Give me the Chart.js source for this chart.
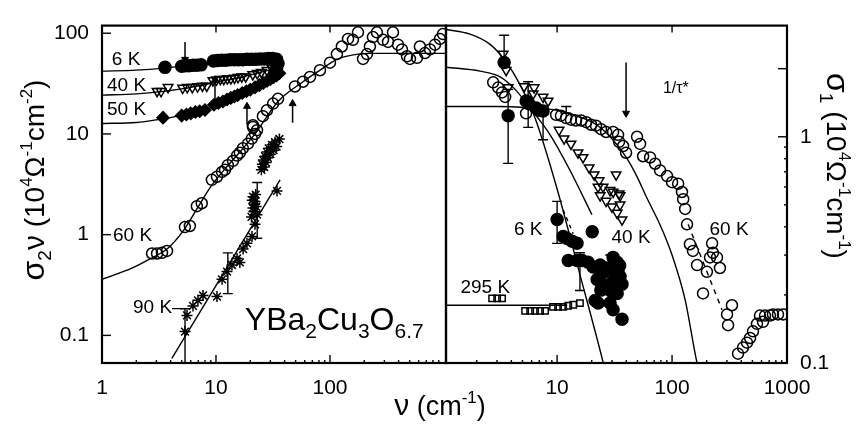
<!DOCTYPE html>
<html lang="en">
<head>
<meta charset="UTF-8">
<title>YBa2Cu3O6.7 conductivity</title>
<script src="https://cdn.jsdelivr.net/npm/chart.js"></script>
<style>
  body { margin: 0; background: #fff; }
  .wrap { position: relative; width: 856px; height: 426px; }
  .wrap canvas { position: absolute; left: 0; top: 0; }
</style>
</head>
<body>
<div class="wrap">
  <canvas id="left" width="856" height="426"></canvas>
  <canvas id="right" width="856" height="426"></canvas>
</div>
<script>
// ---- left panel: sigma2 * nu (10^4 Ohm^-1 cm^-2) vs nu (cm^-1) ----
const left6K = [[3.57,45.8],[5.0,47],[5.4,47.5],[5.8,47.5],[6.3,48],[6.8,48],[7.4,48.5],[9.5,53],[10.3,53.5],[11.2,54],[12.2,54],[13.3,54.5],[14.5,54.5],[15.8,54.5],[17.2,54.5],[18.7,55],[20.4,55],[22.2,55],[24.2,55.5],[26.4,55.5],[28.8,56],[31.4,56],[34,55],[35,50],[34,45],[33,41]];
const left40K = [[3.04,26.6],[3.3,26.5],[3.8,29],[5.1,28.5],[5.6,29],[6.2,29],[6.9,29.5],[7.6,30],[8.3,30],[9.4,34],[10.1,34.5],[10.9,35],[11.7,35],[12.6,35.5],[13.5,35.5],[14.5,36],[15.6,36.5],[16.8,37],[18.2,37],[21,39],[23,40],[25,41],[28,43],[31,45],[33,47]];
const left50K = [[3.43,14.5],[5.0,15.2],[5.5,15.6],[6.0,16],[6.6,16.5],[7.2,16.8],[8.0,17.3],[9.6,19.5],[10.5,20.3],[11.5,21],[12.5,22],[13.5,22.8],[14.5,23.5],[15.5,24.3],[17,25.5],[18.5,26.5],[20,27.5],[22,29],[24,30.5],[26,32],[28,33.5],[30,35],[32,36.5],[34,38],[36,40]];
const left60K = [[2.75,0.65],[3.04,0.65],[3.36,0.66],[3.72,0.69],[5.34,1.19],[5.9,1.22],[6.8,1.92],[7.5,2.05],[9.2,3.5],[10.2,3.76],[11.3,4.2],[12.0,4.4],[12.7,4.9],[14.1,5.4],[15.3,6.1],[16.2,6.5],[17.2,7.2],[19.1,8.0],[20.6,9.0],[22,10],[22.9,10.9],[21.1,11.7],[21.1,12.2],[25.8,15],[28,17.2],[31.7,20],[35,22.3],[49.3,29.6],[58,33],[66.8,36.8],[81.7,42.9],[100,51],[115,62],[127,73.8],[144,87.8],[159,86],[176,102],[195,55.6],[211,62],[224,73.8],[238,91.6],[258,102],[292,86],[323,82],[357,102],[395,77],[428,69],[474,59],[503,55.6],[580,57],[615,73.8],[681,63.5],[754,69],[834,77],[922,87.8],[980,98]];
const left90K = [[5.35,0.109],[5.57,0.158],[6.28,0.196],[6.95,0.223],[7.69,0.249],[10.2,0.243],[11.3,0.36],[12.5,0.43],[13.8,0.5],[15.3,0.58],[16.2,0.53],[17.3,0.72],[18.7,0.82],[20.7,0.96],[22,1.27],[22.9,1.58],[21.1,1.84],[22,2.14],[21.1,2.38],[20.5,1.5],[21.5,1.7],[22.5,1.9],[21.8,2.0],[20.8,2.2],[22.3,2.5],[34.3,2.72],[25,4.4],[25.5,5.0],[26,5.5],[26.5,4.7],[27,6.0],[27.5,5.2],[28,6.6],[28.5,5.8],[29,7.2],[30,6.3],[31,7.8],[32,6.9],[33,8.3],[34,7.5],[36,8.9]];
const leftFit6K = [[1,42],[2,43],[3.5,45],[5,47],[8,49],[12,51],[20,53],[36,55]];
const leftFit40K = [[1,24.3],[2,25],[3,26],[5,28],[8,31],[12,34],[20,38.5],[36,46]];
const leftFit50K = [[1,12.7],[2,13],[3,13.8],[5,15.3],[8,17.5],[12,21],[20,27.5],[36,39]];
const leftFit60K = [[1,0.36],[1.87,0.47],[2.75,0.59],[3.72,0.72],[5.1,1.07],[6.8,1.8],[9,3.0],[12,4.5],[16,6.5],[22,10],[35,21],[58,33],[82,43],[115,55],[160,61],[230,63],[1042,63]];
const leftFit90K = [[4.1,0.059],[36.5,3.5]];
const leftErr = [[5.35,0.05,0.184],[12.7,0.26,0.66],[23,0.92,3.3]];      // nu, low, high
const leftArrows = [[5.35,82,55],[9.8,20,34.5],[18.7,12.4,18.8],[47,12.9,20]]; // nu, tail, head

// ---- right panel: sigma1 (10^4 Ohm^-1 cm^-1) vs nu (cm^-1) ----
const right6K = [[3.46,2.13],[3.75,1.24],[5.38,1.44],[5.7,1.40],[6.56,1.34],[6.97,1.31],[7.55,1.30],[10.0,0.431],[11.3,0.362],[12.2,0.355],[13.5,0.345],[14.9,0.338],[20.2,0.380],[12.5,0.284],[14.9,0.284],[16.5,0.284],[18.6,0.279],[20.6,0.266],[23.7,0.271],[27.2,0.263],[30.7,0.293],[33.3,0.279],[33.9,0.258],[35.3,0.241],[22.3,0.234],[30.7,0.230],[36.7,0.223],[28.9,0.209],[33.3,0.203],[21.4,0.189],[22.7,0.184],[28.9,0.184],[30.7,0.172],[36.7,0.156],[25,0.25],[26,0.22],[32,0.25],[35,0.27],[24,0.21]];
const right40K = [[3.39,2.32],[3.6,1.97],[3.75,1.65],[5.16,1.67],[6.31,1.65],[6.19,1.55],[7.55,1.50],[8.35,1.44],[10.4,1.07],[11.5,0.98],[13.2,0.93],[15.2,0.85],[16.8,0.81],[19.0,0.73],[21.0,0.68],[23.2,0.64],[25.1,0.60],[32.6,0.68],[34.6,0.56],[30.7,0.57],[26.7,0.52],[22.7,0.60],[23.7,0.55],[28.9,0.58],[30.0,0.49],[35.3,0.55],[35.3,0.50],[36.7,0.43],[33.3,0.46]];
const right60K = [[2.78,1.74],[3.07,1.65],[3.32,1.57],[3.53,1.50],[5.37,1.27],[9.8,1.25],[10.8,1.24],[12.0,1.21],[13.2,1.19],[14.6,1.18],[16.2,1.18],[17.9,1.16],[19.8,1.13],[21.8,1.12],[24.1,1.08],[26.7,1.05],[30.7,1.05],[33.9,1.02],[34.6,0.95],[37.5,0.91],[39.8,0.85],[49.6,1.0],[52.7,0.93],[56.0,0.82],[64.4,0.81],[71.2,0.76],[78.7,0.71],[90.5,0.67],[100,0.63],[113,0.62],[122,0.57],[125,0.53],[130,0.48],[135,0.41],[143,0.335],[152,0.313],[165,0.271],[186,0.203],[201,0.253],[223,0.338],[227,0.307],[214,0.293],[246,0.293],[261,0.263],[332,0.180],[301,0.164],[307,0.147],[375,0.110],[414,0.117],[449,0.123],[477,0.129],[506,0.138],[548,0.149],[582,0.162],[618,0.152],[644,0.162],[711,0.162],[755,0.164],[835,0.164],[923,0.164]];
const right295K = [[2.72,0.193],[3.01,0.193],[3.32,0.193],[5.27,0.170],[5.83,0.170],[6.43,0.170],[7.11,0.170],[7.86,0.170],[9.22,0.177],[10.2,0.177],[11.3,0.177],[12.5,0.179],[13.8,0.181],[15.8,0.184]];
const rightFit6K = [[1.08,2.98],[1.75,2.84],[2.61,2.56],[3.53,2.17],[4.76,1.70],[6.43,1.21],[10.0,0.588],[15.8,0.246],[25.1,0.101],[28,0.08]];
const rightFit40K = [[1.08,2.03],[2.14,1.95],[3.19,1.84],[4.31,1.62],[5.82,1.34],[8.69,1.02],[12.9,0.713],[20.1,0.452]];
const rightFit60K = [[1.08,1.36],[3,1.36],[6,1.34],[10,1.31],[16,1.22],[22,1.13],[30,0.98],[40,0.81],[50,0.66],[60,0.54],[80,0.40],[100,0.30],[130,0.19],[165,0.10],[175,0.09]];
const rightFit295K = [[1.08,0.18],[12,0.18]];
const rightDash6K = [[11.3,0.475],[13.8,0.373]];
const rightDash60K = [[138,0.41],[272,0.172]];
const rightErr = [[3.46,2.2,2.81],[3.75,0.763,1.62],[5.6,1.10,1.75],[7.55,0.97,1.25],[12,1.27,1.36],[10,0.338,0.518],[15.8,0.209,0.307],[29,0.25,0.30]];
const rightArrows = [[39.8,2.13,1.27]];

const FONT = '"Liberation Sans", Arial, sans-serif';
const pts = a => a.map(([x, y]) => ({x, y}));
const minorTicks = [1, 10, 100].flatMap(d => [2,3,4,5,6,7,8,9].map(m => m * d));

function markers(data, style, radius, filled, rotation) {
    return {
        data: pts(data), showLine: false, pointStyle: style, pointRadius: radius,
        pointBorderColor: '#000', pointBackgroundColor: filled ? '#000' : 'rgba(0,0,0,0)',
        pointBorderWidth: 1.5, rotation: rotation || 0
    };
}
function curve(data, dash) {
    return {
        data: pts(data), showLine: true, pointRadius: 0, borderColor: '#000',
        borderWidth: 1.4, cubicInterpolationMode: 'monotone', borderDash: dash || []
    };
}
function errBars(list) {
    return list.map(([x, lo, hi]) => ({
        data: [{x, y: lo}, {x, y: hi}], showLine: true, borderColor: '#000', borderWidth: 1.4,
        pointStyle: 'line', pointRadius: 5, pointBorderColor: '#000', pointBorderWidth: 1.4
    }));
}
function arrows(list) {
    return list.map(([x, from, to]) => ({
        data: [{x, y: from}, {x, y: to}], showLine: true, borderColor: '#000', borderWidth: 1.5,
        pointStyle: 'triangle', pointRadius: [0, 4], rotation: to < from ? 180 : 0,
        pointBackgroundColor: '#000', pointBorderColor: '#000', pointBorderWidth: 1
    }));
}

// draws text made of pieces of different size / offset (sub- and superscripts)
function rich(ctx, parts, x, y, rot, align) {
    ctx.save();
    ctx.translate(x, y);
    ctx.rotate(rot);
    ctx.fillStyle = '#000';
    ctx.textBaseline = 'alphabetic';
    ctx.textAlign = 'left';
    let w = 0;
    parts.forEach(([t, s]) => { ctx.font = s + 'px ' + FONT; w += ctx.measureText(t).width; });
    let cx = align === 'center' ? -w / 2 : 0;
    parts.forEach(([t, s, dy]) => {
        ctx.font = s + 'px ' + FONT;
        ctx.fillText(t, cx, dy || 0);
        cx += ctx.measureText(t).width;
    });
    ctx.restore();
}

const isDecade = v => Math.abs(Math.log10(v) - Math.round(Math.log10(v))) < 1e-6;

// box around the plot plus inward tick marks
const frame = {
    id: 'frame',
    afterDatasetsDraw(chart, args, o) {
        const {ctx, chartArea: a} = chart;
        const xs = chart.scales.x, ys = chart.scales.y;
        ctx.save();
        ctx.strokeStyle = '#000';
        ctx.lineWidth = 1.4;
        const seg = (x1, y1, x2, y2) => { ctx.beginPath(); ctx.moveTo(x1, y1); ctx.lineTo(x2, y2); ctx.stroke(); };
        o.xTicks.forEach(v => {
            if (v <= xs.min || v >= xs.max) return;
            const p = xs.getPixelForValue(v);
            const major = isDecade(v);
            seg(p, a.bottom, p, a.bottom - (major ? 8 : 3));
            if (major) seg(p, a.top, p, a.top + 7);
        });
        o.yTicks.forEach(v => {
            if (v <= ys.min || v >= ys.max) return;
            const p = ys.getPixelForValue(v);
            const len = o.yMajor.includes(v) ? 9 : 3;
            if (o.ySide === 'left') seg(a.left, p, a.left + len, p);
            else seg(a.right, p, a.right - len, p);
        });
        ctx.lineWidth = 2.2;
        ctx.strokeRect(a.left, a.top, a.right - a.left, a.bottom - a.top);
        ctx.restore();
    }
};

// in-plot labels, placed in data coordinates
const notes = {
    id: 'notes',
    afterDatasetsDraw(chart, args, o) {
        const {ctx} = chart;
        const xs = chart.scales.x, ys = chart.scales.y;
        ctx.save();
        ctx.fillStyle = '#000';
        ctx.textBaseline = 'middle';
        o.items.forEach(([text, x, y, size, align]) => {
            ctx.font = size + 'px ' + FONT;
            ctx.textAlign = align || 'left';
            ctx.fillText(text, xs.getPixelForValue(x), ys.getPixelForValue(y));
        });
        (o.rich || []).forEach(([parts, x, y]) => {
            rich(ctx, parts, xs.getPixelForValue(x), ys.getPixelForValue(y), 0, 'left');
        });
        (o.titles || []).forEach(([parts, x, y, rot]) => rich(ctx, parts, x, y, rot, 'center'));
        ctx.restore();
    }
};

function logAxis(min, max, ticks, position, fit) {
    return {
        type: 'logarithmic', min, max, position,
        grid: { display: false, drawTicks: false },
        border: { display: false },
        afterBuildTicks: s => { s.ticks = ticks.map(value => ({value})); },
        afterFit: fit,
        ticks: {
            color: '#000', font: { family: FONT, size: 21 }, maxRotation: 0, autoSkip: false,
            padding: position === 'bottom' ? 13 : 13,
            callback: v => String(v)
        }
    };
}

const common = {
    responsive: false, animation: false, events: [],
    plugins: { legend: { display: false }, tooltip: { enabled: false } }
};

new Chart(document.getElementById('left'), {
    type: 'scatter',
    data: {
        datasets: [
            markers(left6K, 'circle', 6, true),
            markers(left40K, 'triangle', 5.5, false, 180),
            markers(left50K, 'rectRot', 6, true),
            markers(left60K, 'circle', 5.5, false),
            markers(left90K, 'star', 5.5, false),
            ...errBars(leftErr),
            ...arrows(leftArrows),
            curve(leftFit6K), curve(leftFit40K), curve(leftFit50K),
            curve(leftFit60K), curve(leftFit90K)
        ]
    },
    options: {
        ...common,
        layout: { padding: { left: 0, right: 410, top: 8, bottom: 0 } },
        scales: {
            x: logAxis(1, 1042, [1, 10, 100], 'bottom', s => { s.height = 63; }),
            y: logAxis(0.0532, 119, [0.1, 1, 10, 100], 'left', s => { s.width = 102; })
        },
        plugins: {
            ...common.plugins,
            frame: { xTicks: minorTicks.concat([10, 100]), yTicks: [0.1, 1, 10, 100], yMajor: [0.1, 1, 10, 100], ySide: 'left' },
            notes: {
                items: [
                    ['6 K', 1.22, 54.5, 19], ['40 K', 1.106, 30.3, 19], ['50 K', 1.106, 17.2, 19],
                    ['60 K', 1.25, 0.98, 19], ['90 K\u2013', 1.87, 0.188, 19]
                ],
                rich: [
                    [[['YBa', 32], ['2', 21, 8], ['Cu', 32], ['3', 21, 8], ['O', 32], ['6.7', 21, 8]], 17.9, 0.114]
                ],
                titles: [
                    [[['\u03c3', 32], ['2', 19, 7], ['\u03bd', 30], [' (10', 28], ['4', 17, -12], ['\u03a9', 28], ['-1', 17, -12], ['cm', 28], ['-2', 17, -12], [')', 28]], 44, 180, -Math.PI / 2],
                    [[['\u03bd', 30], [' (cm', 27], ['-1', 17, -12], [')', 27]], 440, 415, 0]
                ]
            }
        }
    },
    plugins: [frame, notes]
});

new Chart(document.getElementById('right'), {
    type: 'scatter',
    data: {
        datasets: [
            markers(right6K, 'circle', 6, true),
            markers(right40K, 'triangle', 5.5, false, 180),
            markers(right60K, 'circle', 5.5, false),
            markers(right295K, 'rect', 4.5, false),
            ...errBars(rightErr),
            ...arrows(rightArrows),
            curve(rightFit6K), curve(rightFit40K), curve(rightFit60K), curve(rightFit295K),
            curve(rightDash6K, [4, 4]), curve(rightDash60K, [5, 5])
        ]
    },
    options: {
        ...common,
        layout: { padding: { left: 446, right: 0, top: 8, bottom: 0 } },
        scales: {
            x: logAxis(1.08, 1000, [10, 100, 1000], 'bottom', s => { s.height = 63; }),
            y: logAxis(0.1, 3.1, [0.1, 1], 'right', s => { s.width = 69; })
        },
        plugins: {
            ...common.plugins,
            frame: { xTicks: minorTicks.concat([10, 100]), yTicks: [0.2, 0.3, 0.4, 0.5, 0.6, 0.7, 0.8, 0.9, 1, 2], yMajor: [1, 2], ySide: 'right' },
            notes: {
                items: [
                    ['6 K', 5.6, 0.388, 19, 'center'], ['40 K', 44, 0.358, 19, 'center'],
                    ['60 K', 313, 0.388, 19, 'center'], ['295 K', 2.37, 0.215, 19, 'center'],
                    ['1/\u03c4*', 108, 1.64, 16, 'center']
                ],
                titles: [
                    [[['\u03c3', 32], ['1', 19, 7], [' (10', 28], ['4', 17, -12], ['\u03a9', 28], ['-1', 17, -12], ['cm', 28], ['-1', 17, -12], [')', 28]], 827, 166, Math.PI / 2]
                ]
            }
        }
    },
    plugins: [frame, notes]
});
</script>
</body>
</html>
